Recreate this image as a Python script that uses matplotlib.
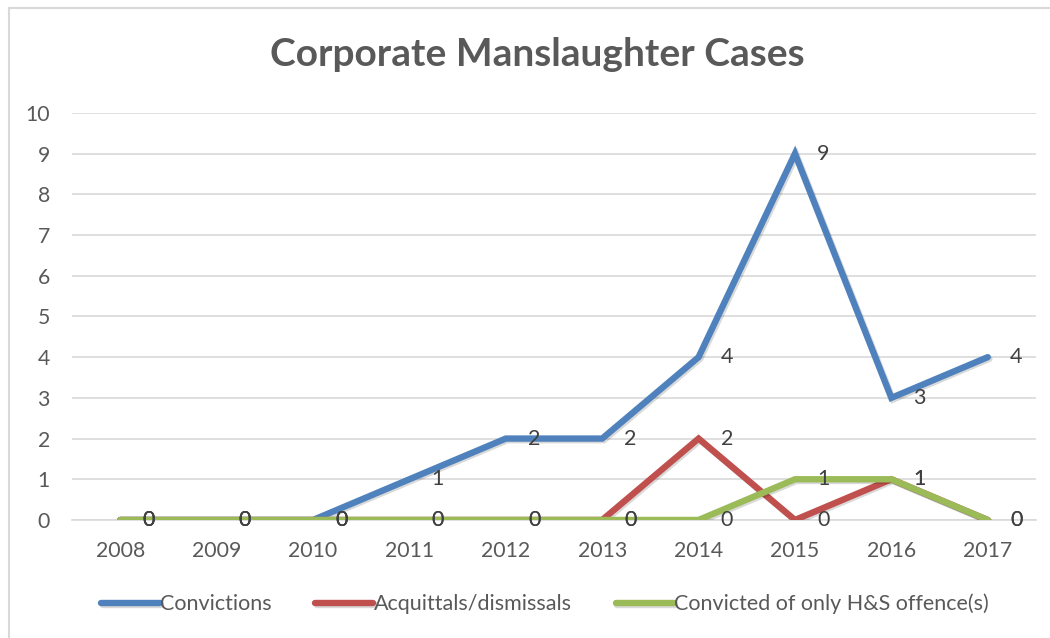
import matplotlib
matplotlib.use("Agg")
import matplotlib.pyplot as plt
import matplotlib.patheffects as pe
from matplotlib.lines import Line2D

years = ["2008", "2009", "2010", "2011", "2012", "2013", "2014", "2015", "2016", "2017"]
convictions = [0, 0, 0, 1, 2, 2, 4, 9, 3, 4]
acquittals = [0, 0, 0, 0, 0, 0, 2, 0, 1, 0]
hs_only = [0, 0, 0, 0, 0, 0, 0, 1, 1, 0]
series_names = ["Convictions", "Acquittals/dismissals", "Convicted of only H&S offence(s)"]
colors = ["#4F81BD", "#C0504D", "#9BBB59"]
title = "Corporate Manslaughter Cases"

plt.rcParams['font.family'] = ['Lato', 'DejaVu Sans']

fig = plt.figure(figsize=(10.5, 6.38), dpi=100)
ax = fig.add_axes([0.0686, 0.185, 0.918, 0.638])

x = list(range(len(years)))
shadow = [pe.SimpleLineShadow(offset=(1.2, -1.2), shadow_color='black', alpha=0.15), pe.Normal()]
for vals, name, c in zip([convictions, acquittals, hs_only], series_names, colors):
    ax.plot(x, vals, color=c, lw=4.6, label=name, solid_joinstyle='miter',
            solid_capstyle='round', path_effects=shadow, zorder=3)
for vals in [convictions, acquittals, hs_only]:
    for xi, v in zip(x, vals):
        ax.annotate(str(v), (xi, v), xytext=(16, 0), textcoords='offset points',
                    ha='left', va='center', fontsize=15.5, color='#404040', zorder=5)

ax.set_xlim(-0.5, len(years) - 0.5)
ax.set_ylim(0, 10)
ax.set_yticks(range(0, 11))
ax.set_xticks(x)
ax.set_xticklabels(years)
ax.grid(axis='y', color='#D9D9D9', lw=1.2, zorder=0)
ax.set_axisbelow(True)
for s in ['top', 'right', 'left']:
    ax.spines[s].set_visible(False)
ax.spines['bottom'].set_color('#D9D9D9')
ax.spines['bottom'].set_linewidth(1.2)
ax.tick_params(axis='both', length=0, labelsize=15.3, colors='#595959')
ax.tick_params(axis='y', pad=16)
ax.tick_params(axis='x', pad=15)

fig.text(0.512, 0.915, title, ha='center', va='center', fontsize=28,
         fontweight='bold', color='#595959')

leg = fig.legend(loc='center', bbox_to_anchor=(0.519, 0.053), ncol=3, frameon=False,
                 fontsize=15.5, handlelength=2.7, handletextpad=0.0, columnspacing=2.05)
for t in leg.get_texts():
    t.set_color('#595959')

W, H = 1050, 638
fig.lines.append(Line2D([8.5 / W, 1.0], [1 - 7.5 / H, 1 - 7.5 / H], transform=fig.transFigure,
                        color='#D9D9D9', lw=1.5))
fig.lines.append(Line2D([8.5 / W, 8.5 / W], [0.0, 1 - 7.5 / H], transform=fig.transFigure,
                        color='#D9D9D9', lw=1.5))

fig.savefig("out.png", dpi=100)
